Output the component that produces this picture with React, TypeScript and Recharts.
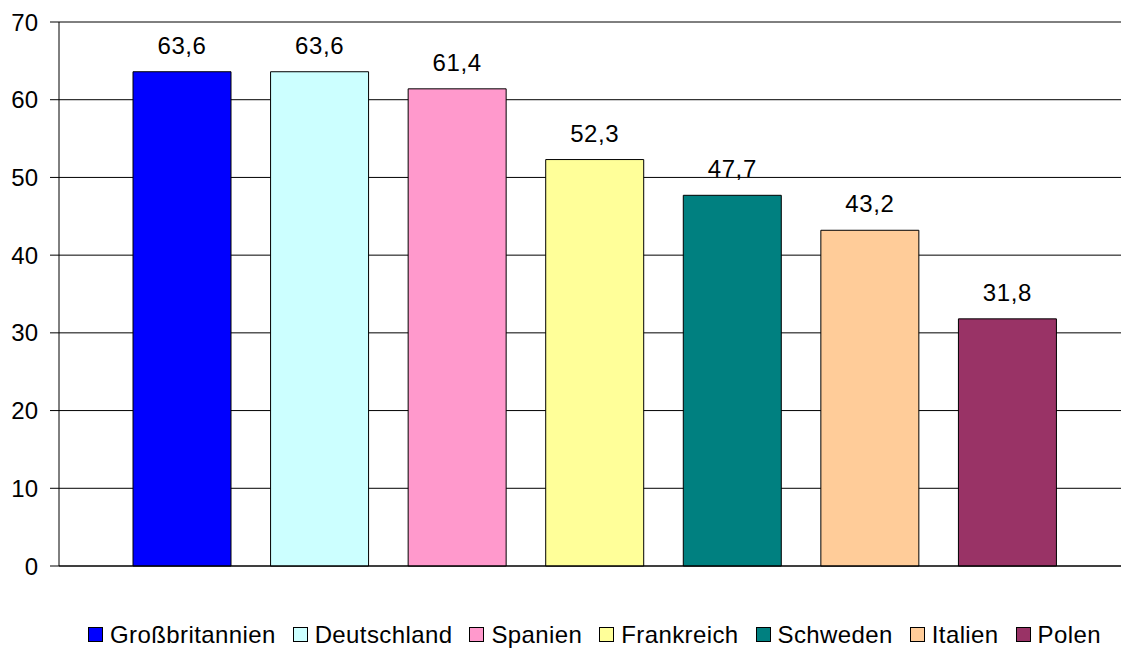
import { BarChart, Bar, XAxis, YAxis, CartesianGrid, Cell, LabelList } from "recharts"

const COUNTRIES = ["Großbritannien", "Deutschland", "Spanien", "Frankreich", "Schweden", "Italien", "Polen"]
const VALUES = [63.6, 63.6, 61.4, 52.3, 47.7, 43.2, 31.8]
const COLORS = ["#0000FF", "#CCFFFF", "#FF99CC", "#FFFF99", "#008080", "#FFCC99", "#993366"]
const Y_TICKS = [0, 10, 20, 30, 40, 50, 60, 70]

const FONT = "'Liberation Sans', Arial, sans-serif"

const data = COUNTRIES.map((name, i) => ({ name, value: VALUES[i] }))

export default function App() {
  return (
    <div style={{ position: "relative", width: 1121, height: 649, background: "#fff", fontFamily: FONT, overflow: "hidden" }}>
      <style>{`body{margin:0}`}</style>
      <BarChart
        width={1121}
        height={649}
        data={data}
        margin={{ top: 22, right: 0, bottom: 0, left: 0 }}
      >
        <CartesianGrid vertical={false} stroke="#000" strokeWidth={1} />
        <XAxis
          dataKey="name"
          height={83}
          tick={false}
          tickLine={false}
          axisLine={{ stroke: "#000", strokeWidth: 1 }}
          padding={{ left: 54, right: 45 }}
        />
        <YAxis
          width={59}
          domain={[0, 70]}
          ticks={Y_TICKS}
          interval={0}
          tickSize={9}
          tickMargin={12}
          tickLine={{ stroke: "#000" }}
          axisLine={{ stroke: "#000", strokeWidth: 1 }}
          tick={{ fill: "#000", fontSize: 24, fontFamily: FONT }}
        />
        <Bar dataKey="value" barSize={98} stroke="#000" strokeWidth={1} isAnimationActive={false}>
          {data.map((d, i) => (
            <Cell key={d.name} fill={COLORS[i]} />
          ))}
          <LabelList
            dataKey="value"
            position="top"
            offset={18}
            formatter={(v: number) => v.toFixed(1).replace(".", ",")}
            style={{ fill: "#000", fontSize: 24, fontFamily: FONT, letterSpacing: 0.6 }}
          />
        </Bar>
      </BarChart>
      {/* legend sits just above the bottom edge so descenders stay visible */}
      <div
        style={{
          position: "absolute",
          left: 88,
          top: 621,
          width: 1013,
          display: "flex",
          justifyContent: "space-between",
          fontSize: 24,
          lineHeight: "normal",
          letterSpacing: 0.4,
          color: "#000",
          whiteSpace: "nowrap",
        }}
      >
        {COUNTRIES.map((c, i) => (
          <div key={c} style={{ display: "flex", alignItems: "flex-start" }}>
            <span
              style={{
                display: "inline-block",
                boxSizing: "border-box",
                width: 15,
                height: 15,
                marginTop: 6,
                marginRight: 7,
                border: "1px solid #000",
                background: COLORS[i],
              }}
            />
            <span>{c}</span>
          </div>
        ))}
      </div>
    </div>
  )
}
